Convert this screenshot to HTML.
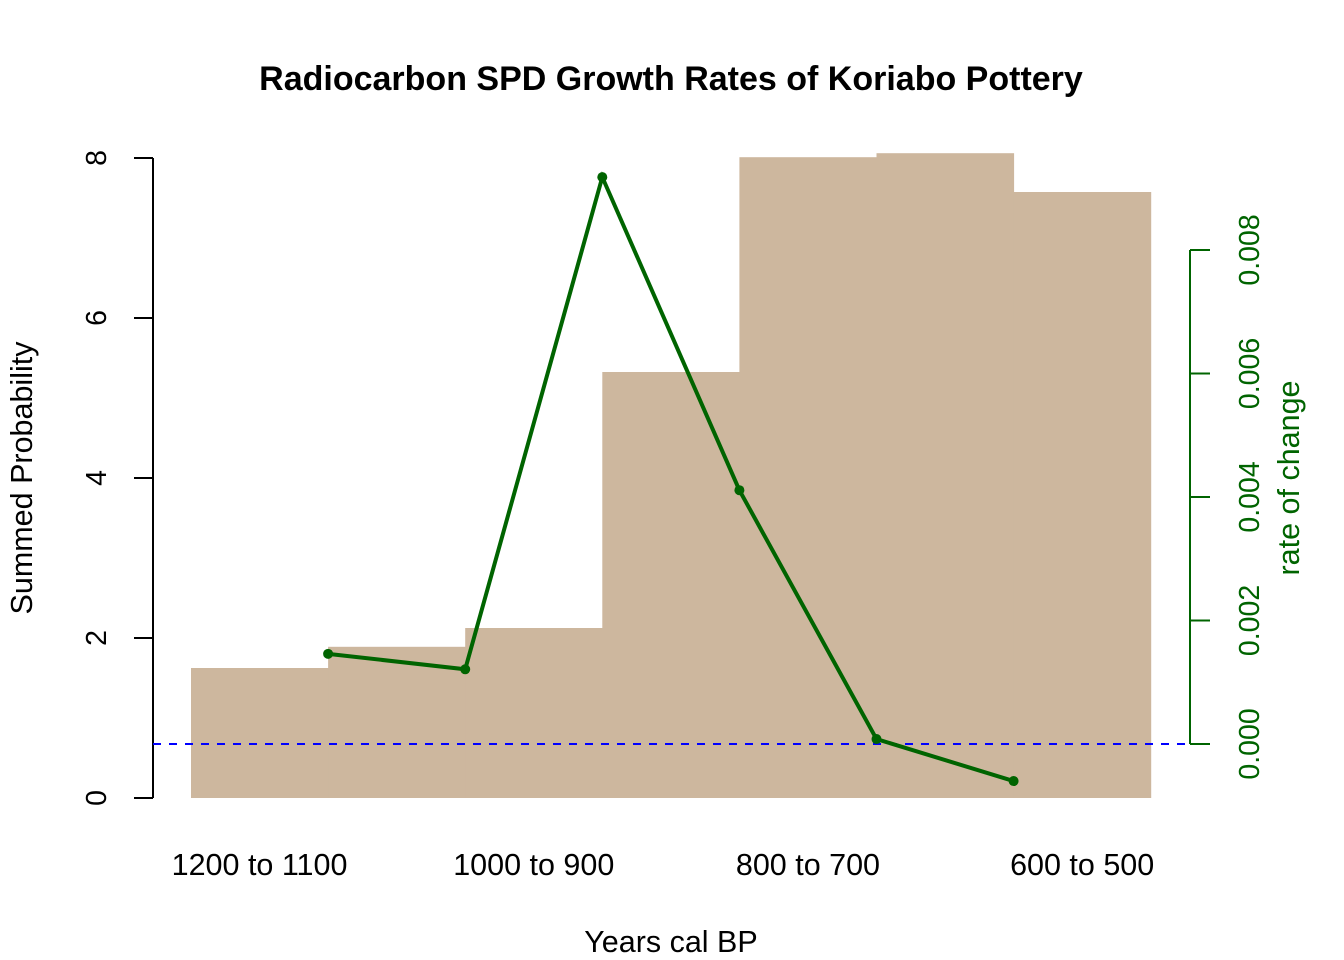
<!DOCTYPE html>
<html><head><meta charset="utf-8"><style>body{margin:0;background:#fff}svg{display:block;font-family:"Liberation Sans",Arial,sans-serif}</style></head>
<body>
<svg id="chart" width="1344" height="960" viewBox="0 0 1344 960">
<text x="671" y="90" text-anchor="middle" font-size="34" font-weight="bold">Radiocarbon SPD Growth Rates of Koriabo Pottery</text>
<g id="bars"></g>
<g id="lefta"></g>
<g id="righta"></g>
<line x1="153" y1="744" x2="1190" y2="744" stroke="#0000ff" stroke-width="2" stroke-dasharray="8,8"/>
<g id="rate"></g>
<g id="xl"></g>
<text x="671" y="952" text-anchor="middle" font-size="30.5">Years cal BP</text>
<text transform="translate(32,478) rotate(-90)" text-anchor="middle" font-size="30.5">Summed Probability</text>
<text transform="translate(1299,478) rotate(-90)" text-anchor="middle" font-size="30.5" fill="#006400">rate of change</text>
</svg>
<script>
const barValues=[1.625,1.89,2.125,5.325,8.01,8.06,7.575];
const rateValues=[0.00146,0.00121,0.00918,0.00411,0.00008,-0.0006];
const leftTicks=[0,2,4,6,8];
const rightTicks=[0,0.002,0.004,0.006,0.008];
const xLabels=["1200 to 1100","1000 to 900","800 to 700","600 to 500"];
const NS="http://www.w3.org/2000/svg";
function mk(p,t,a,txt){const e=document.createElementNS(NS,t);for(const k in a)e.setAttribute(k,a[k]);if(txt!=null)e.textContent=txt;p.appendChild(e);return e;}
const x0=191,bw=137.1;
const yL=v=>798-v*80;
const yR=v=>744-v*61750;
const bars=document.getElementById('bars');
barValues.forEach((v,i)=>{const r=mk(bars,'rect',{x:x0+i*bw,y:yL(v),width:bw+0.5,height:yL(0)-yL(v),fill:'#cdb79e'});

});
const la=document.getElementById('lefta');
mk(la,'line',{x1:153,y1:yL(0),x2:153,y2:yL(8),stroke:'#000','stroke-width':2});
leftTicks.forEach(v=>{mk(la,'line',{x1:134,y1:yL(v),x2:153,y2:yL(v),stroke:'#000','stroke-width':2});
const t=mk(la,'text',{transform:`translate(106,${yL(v)}) rotate(-90)`,'text-anchor':'middle','font-size':28.5},String(v));

});
const ra=document.getElementById('righta');
mk(ra,'line',{x1:1190,y1:yR(0),x2:1190,y2:yR(0.008),stroke:'#006400','stroke-width':2});
rightTicks.forEach(v=>{mk(ra,'line',{x1:1190,y1:yR(v),x2:1210,y2:yR(v),stroke:'#006400','stroke-width':2});
const t=mk(ra,'text',{transform:`translate(1259,${yR(v)}) rotate(-90)`,'text-anchor':'middle','font-size':28.5,fill:'#006400'},v.toFixed(3));

});
const rg=document.getElementById('rate');
const px=i=>x0+(i+1)*bw;
const pl=mk(rg,'polyline',{points:rateValues.map((v,i)=>px(i)+','+yR(v)).join(' '),fill:'none',stroke:'#006400','stroke-width':4});


rateValues.forEach((v,i)=>{const c=mk(rg,'circle',{cx:px(i),cy:yR(v),r:5,fill:'#006400'});

});
const xl=document.getElementById('xl');
xLabels.forEach((s,i)=>{const t=mk(xl,'text',{x:x0+bw*(2*i+0.5),y:875,'text-anchor':'middle','font-size':30.5},s);

});
</script>
</body></html>
